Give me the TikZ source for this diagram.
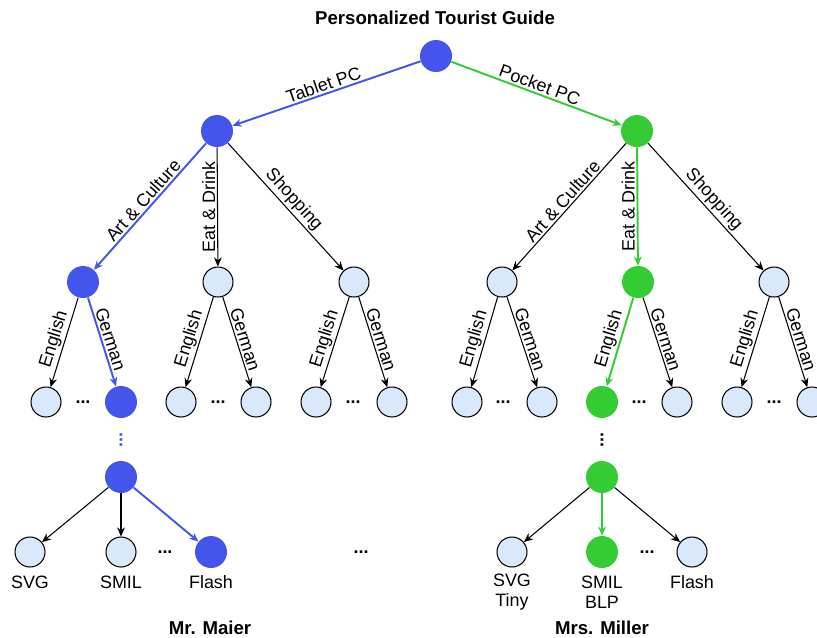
\documentclass[tikz,border=0pt]{standalone}
\usepackage{fontspec}
\setmainfont{Liberation Sans}
\usetikzlibrary{positioning,arrows.meta}

\definecolor{pathblue}{RGB}{68,85,238}
\definecolor{pathgreen}{RGB}{51,204,51}
\definecolor{optfill}{RGB}{218,232,252}

\tikzset{
  opt/.style={circle, draw=black, line width=0.6pt, fill=optfill, minimum size=0.6cm, inner sep=0pt},
  selblue/.style={circle, fill=pathblue, minimum size=0.64cm, inner sep=0pt},
  selgreen/.style={circle, fill=pathgreen, minimum size=0.64cm, inner sep=0pt},
  lbl/.style={font=\fontsize{10.2}{11.5}\selectfont, inner sep=1pt},
  heading/.style={font=\fontsize{10.6}{12}\selectfont\bfseries},
  more/.style={font=\fontsize{10.2}{11.5}\selectfont\bfseries, inner sep=0pt},
  arr/.style={-{Stealth[length=5.2pt,width=4.4pt]}, black, line width=0.6pt},
  arrblue/.style={arr, draw=pathblue, fill=pathblue, line width=1.1pt},
  arrgreen/.style={arr, draw=pathgreen, fill=pathgreen, line width=1.1pt}
}

\begin{document}
\begin{tikzpicture}[x=0.02cm, y=-0.02cm]
                \useasboundingbox (0,0) rectangle (817,637);

                \node[heading] (title) at (435,18) {Personalized Tourist Guide};

                \node[selblue]  (root)    at (436,56)  {};
                \node[selblue]  (tpc)     at (217,131) {};
                \node[selgreen] (ppc)     at (637,131) {};

                % Tablet PC branch
                \node[selblue]  (tart)    at (83,282)  {};
                \node[opt]      (teat)    at (218,282) {};
                \node[opt]      (tshop)   at (354,282) {};

                \node[opt]      (tarten)  at (46,402)  {};
                \node[more]     (dots1)   at (83,402)  {...};
                \node[selblue]  (tartde)  at (121,402) {};
                \node[opt]      (teaten)  at (181,402) {};
                \node[more]     (dots2)   at (218,402) {...};
                \node[opt]      (teatde)  at (256,402) {};
                \node[opt]      (tshopen) at (316,402) {};
                \node[more]     (dots3)   at (353,402) {...};
                \node[opt]      (tshopde) at (392,402) {};

                \node[more, rotate=90, text=pathblue] (vdots1) at (121,440) {...};
                \node[selblue]  (tfmt)    at (121,477) {};

                \node[opt]      (tsvg)    at (30,552)  {};
                \node[opt]      (tsmil)   at (121,552) {};
                \node[more]     (dots4)   at (165,552) {...};
                \node[selblue]  (tflash)  at (211,552) {};
                \node[more]     (dots5)   at (361,552) {...};

                \node[lbl] (tsvgl)   at (30,582)  {SVG};
                \node[lbl] (tsmill)  at (121,582) {SMIL};
                \node[lbl] (tflashl) at (211,582) {Flash};
                \node[heading] (maier) at (210,628) {Mr. Maier};

                % Pocket PC branch
                \node[opt]      (part)    at (502,282) {};
                \node[selgreen] (peat)    at (638,282) {};
                \node[opt]      (pshop)   at (774,282) {};

                \node[opt]      (parten)  at (467,402) {};
                \node[more]     (dots6)   at (503,402) {...};
                \node[opt]      (partde)  at (542,402) {};
                \node[selgreen] (peaten)  at (602,402) {};
                \node[more]     (dots7)   at (639,402) {...};
                \node[opt]      (peatde)  at (677,402) {};
                \node[opt]      (pshopen) at (737,402) {};
                \node[more]     (dots8)   at (774,402) {...};
                \node[opt]      (pshopde) at (812,402) {};

                \node[more, rotate=90] (vdots2) at (602,440) {...};
                \node[selgreen] (pfmt)    at (602,477) {};

                \node[opt]      (psvg)    at (512,552) {};
                \node[selgreen] (psmil)   at (602,552) {};
                \node[more]     (dots9)   at (647,552) {...};
                \node[opt]      (pflash)  at (692,552) {};

                \node[lbl, align=center] (psvgl)   at (512,592) {SVG\\Tiny};
                \node[lbl, align=center] (psmill)  at (602,592) {SMIL\\BLP};
                \node[lbl]               (pflashl) at (692,582) {Flash};
                \node[heading] (miller) at (602,628) {Mrs. Miller};

                \path
                (root) edge [arrblue]  node[lbl, sloped, above] {Tablet PC} (tpc)
                (root) edge [arrgreen] node[lbl, sloped, above] {Pocket PC} (ppc)

                (tpc)  edge [arrblue]  node[lbl, sloped, above] {Art \& Culture} (tart)
                (tpc)  edge [arr]      node[lbl, rotate=90, anchor=south] {Eat \& Drink} (teat)
                (tpc)  edge [arr]      node[lbl, sloped, above] {Shopping} (tshop)
                (ppc)  edge [arr]      node[lbl, sloped, above] {Art \& Culture} (part)
                (ppc)  edge [arrgreen] node[lbl, rotate=90, anchor=south] {Eat \& Drink} (peat)
                (ppc)  edge [arr]      node[lbl, sloped, above] {Shopping} (pshop)

                (tart)  edge [arr]      node[lbl, sloped, above] {English} (tarten)
                (tart)  edge [arrblue]  node[lbl, sloped, above] {German}  (tartde)
                (teat)  edge [arr]      node[lbl, sloped, above] {English} (teaten)
                (teat)  edge [arr]      node[lbl, sloped, above] {German}  (teatde)
                (tshop) edge [arr]      node[lbl, sloped, above] {English} (tshopen)
                (tshop) edge [arr]      node[lbl, sloped, above] {German}  (tshopde)
                (part)  edge [arr]      node[lbl, sloped, above] {English} (parten)
                (part)  edge [arr]      node[lbl, sloped, above] {German}  (partde)
                (peat)  edge [arrgreen] node[lbl, sloped, above] {English} (peaten)
                (peat)  edge [arr]      node[lbl, sloped, above] {German}  (peatde)
                (pshop) edge [arr]      node[lbl, sloped, above] {English} (pshopen)
                (pshop) edge [arr]      node[lbl, sloped, above] {German}  (pshopde)

                (tfmt) edge [arr]      (tsvg)
                (tfmt) edge [arr]      (tsmil)
                (tfmt) edge [arrblue]  (tflash)
                (pfmt) edge [arr]      (psvg)
                (pfmt) edge [arrgreen] (psmil)
                (pfmt) edge [arr]      (pflash);
            \end{tikzpicture}
\end{document}
